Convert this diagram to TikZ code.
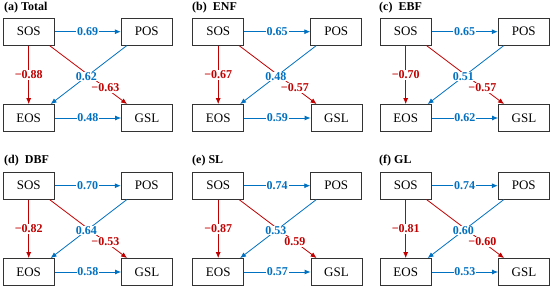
\documentclass[tikz,border=0pt]{standalone}
\usepackage{fontspec}
\setmainfont{Liberation Serif}
\usepackage{xcolor}
\usetikzlibrary{arrows.meta}
\definecolor{effblue}{RGB}{0,112,192}
\definecolor{effred}{RGB}{192,0,0}

\begin{document}
\begin{tikzpicture}[x=1pt, y=-1pt, >={Latex[length=6pt,width=5pt]},
	varbox/.style={draw=black!80, line width=0.8pt, minimum width=51pt, minimum height=27pt, inner sep=0pt, font=\fontsize{13}{15}\selectfont},
	blueline/.style={->, draw=effblue, line width=0.8pt},
	redline/.style={->, draw=effred, line width=0.8pt},
	bluelab/.style={fill=white, inner sep=0.8pt, text=effblue, font=\bfseries\fontsize{12}{14}\selectfont},
	redlab/.style={fill=white, inner sep=0.8pt, text=effred, font=\bfseries\fontsize{12}{14}\selectfont},
	paneltitle/.style={anchor=west, inner sep=0pt, font=\bfseries\fontsize{12}{14}\selectfont}]
	\useasboundingbox (0,0) rectangle (550,289);

	\begin{scope}[name prefix=a-]
		\node[paneltitle] (title) at (4,8) {(a) Total};
		\node[varbox] (SOS) at (28.7,31.7) {SOS};
		\node[varbox] (POS) at (146.7,31.7) {POS};
		\node[varbox] (EOS) at (28.7,118) {EOS};
		\node[varbox] (GSL) at (147,118) {GSL};
		\draw[blueline] (SOS) -- (POS) node[midway, bluelab] {0.69};
		\draw[redline] (SOS) -- (EOS) node[midway, redlab] {−0.88};
		\draw[redline] ([xshift=-5pt]SOS.south east) -- ([xshift=6pt]GSL.north west) node[pos=0.72, redlab] {−0.63};
		\draw[blueline] ([xshift=6pt]POS.south west) -- ([xshift=-4pt]EOS.north east) node[pos=0.53, bluelab] {0.62};
		\draw[blueline] (EOS) -- (GSL) node[midway, bluelab] {0.48};
	\end{scope}

	\begin{scope}[shift={(189.5,0)}, name prefix=b-]
		\node[paneltitle] (title) at (2.5,8) {(b)\ \ ENF};
		\node[varbox] (SOS) at (28.7,31.7) {SOS};
		\node[varbox] (POS) at (146.7,31.7) {POS};
		\node[varbox] (EOS) at (28.7,118) {EOS};
		\node[varbox] (GSL) at (147,118) {GSL};
		\draw[blueline] (SOS) -- (POS) node[midway, bluelab] {0.65};
		\draw[redline] (SOS) -- (EOS) node[midway, redlab] {−0.67};
		\draw[redline] ([xshift=-5pt]SOS.south east) -- ([xshift=6pt]GSL.north west) node[pos=0.72, redlab] {−0.57};
		\draw[blueline] ([xshift=6pt]POS.south west) -- ([xshift=-4pt]EOS.north east) node[pos=0.53, bluelab] {0.48};
		\draw[blueline] (EOS) -- (GSL) node[midway, bluelab] {0.59};
	\end{scope}

	\begin{scope}[shift={(377,0)}, name prefix=c-]
		\node[paneltitle] (title) at (2,8) {(c)\ \ EBF};
		\node[varbox] (SOS) at (28.7,31.7) {SOS};
		\node[varbox] (POS) at (146.7,31.7) {POS};
		\node[varbox] (EOS) at (28.7,118) {EOS};
		\node[varbox] (GSL) at (147,118) {GSL};
		\draw[blueline] (SOS) -- (POS) node[midway, bluelab] {0.65};
		\draw[redline] (SOS) -- (EOS) node[midway, redlab] {−0.70};
		\draw[redline] ([xshift=-5pt]SOS.south east) -- ([xshift=6pt]GSL.north west) node[pos=0.72, redlab] {−0.57};
		\draw[blueline] ([xshift=6pt]POS.south west) -- ([xshift=-4pt]EOS.north east) node[pos=0.53, bluelab] {0.51};
		\draw[blueline] (EOS) -- (GSL) node[midway, bluelab] {0.62};
	\end{scope}

	\begin{scope}[shift={(0,154)}, name prefix=d-]
		\node[paneltitle] (title) at (4,7) {(d)\ \ DBF};
		\node[varbox] (SOS) at (28.7,31.7) {SOS};
		\node[varbox] (POS) at (146.7,31.7) {POS};
		\node[varbox] (EOS) at (28.7,118) {EOS};
		\node[varbox] (GSL) at (147,118) {GSL};
		\draw[blueline] (SOS) -- (POS) node[midway, bluelab] {0.70};
		\draw[redline] (SOS) -- (EOS) node[midway, redlab] {−0.82};
		\draw[redline] ([xshift=-5pt]SOS.south east) -- ([xshift=6pt]GSL.north west) node[pos=0.72, redlab] {−0.53};
		\draw[blueline] ([xshift=6pt]POS.south west) -- ([xshift=-4pt]EOS.north east) node[pos=0.53, bluelab] {0.64};
		\draw[blueline] (EOS) -- (GSL) node[midway, bluelab] {0.58};
	\end{scope}

	\begin{scope}[shift={(189.5,154)}, name prefix=e-]
		\node[paneltitle] (title) at (2.5,7) {(e) SL};
		\node[varbox] (SOS) at (28.7,31.7) {SOS};
		\node[varbox] (POS) at (146.7,31.7) {POS};
		\node[varbox] (EOS) at (28.7,118) {EOS};
		\node[varbox] (GSL) at (147,118) {GSL};
		\draw[blueline] (SOS) -- (POS) node[midway, bluelab] {0.74};
		\draw[redline] (SOS) -- (EOS) node[midway, redlab] {−0.87};
		\draw[redline] ([xshift=-5pt]SOS.south east) -- ([xshift=6pt]GSL.north west) node[pos=0.72, redlab] {0.59};
		\draw[blueline] ([xshift=6pt]POS.south west) -- ([xshift=-4pt]EOS.north east) node[pos=0.53, bluelab] {0.53};
		\draw[blueline] (EOS) -- (GSL) node[midway, bluelab] {0.57};
	\end{scope}

	\begin{scope}[shift={(377,154)}, name prefix=f-]
		\node[paneltitle] (title) at (2,7) {(f) GL};
		\node[varbox] (SOS) at (28.7,31.7) {SOS};
		\node[varbox] (POS) at (146.7,31.7) {POS};
		\node[varbox] (EOS) at (28.7,118) {EOS};
		\node[varbox] (GSL) at (147,118) {GSL};
		\draw[blueline] (SOS) -- (POS) node[midway, bluelab] {0.74};
		\draw[redline] (SOS) -- (EOS) node[midway, redlab] {−0.81};
		\draw[redline] ([xshift=-5pt]SOS.south east) -- ([xshift=6pt]GSL.north west) node[pos=0.72, redlab] {−0.60};
		\draw[blueline] ([xshift=6pt]POS.south west) -- ([xshift=-4pt]EOS.north east) node[pos=0.53, bluelab] {0.60};
		\draw[blueline] (EOS) -- (GSL) node[midway, bluelab] {0.53};
	\end{scope}
\end{tikzpicture}
\end{document}
